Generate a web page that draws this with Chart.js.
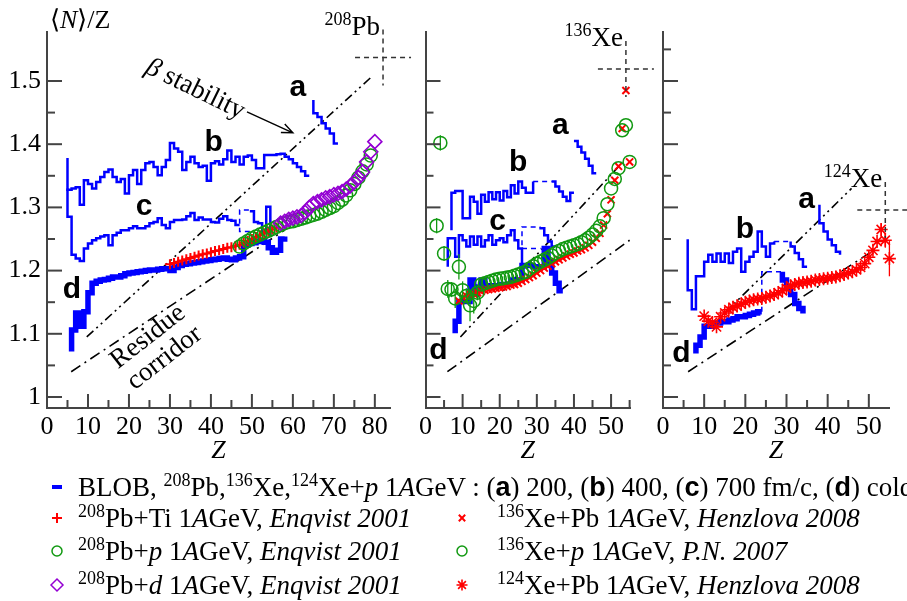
<!DOCTYPE html>
<html>
<head>
<meta charset="utf-8">
<title>N/Z of residues</title>
<script src="https://cdn.jsdelivr.net/npm/chart.js@4.4.1/dist/chart.umd.min.js"></script>
<style>
  html, body { margin: 0; padding: 0; background: #fff; }
  #fig { position: relative; width: 907px; height: 601px; overflow: hidden;
         font-family: 'Liberation Serif', 'Times New Roman', serif; }
  #fig canvas { position: absolute; top: 0; }
  #pbCanvas { left: 0; }
  #xe136Canvas { left: 415px; }
  #xe124Canvas { left: 650px; }
  #legendMarks { left: 0; top: 460px !important; }
  .row { position: absolute; font-size: 27px; line-height: 28px; height: 28px; white-space: nowrap; color: #000; }
  .row sup { font-size: 18px; vertical-align: 0; position: relative; top: -10px; }
  .row b { font-family: 'Liberation Sans', Arial, sans-serif; font-weight: bold; }
</style>
</head>
<body>
<div id="fig">
  <canvas id="pbCanvas" width="420" height="470"></canvas>
  <canvas id="xe136Canvas" width="250" height="470"></canvas>
  <canvas id="xe124Canvas" width="257" height="470"></canvas>
  <canvas id="legendMarks" width="907" height="141"></canvas>

  <div class="row" style="left:78px; top:473px">BLOB, <sup>208</sup>Pb,<sup>136</sup>Xe,<sup>124</sup>Xe+<i>p</i> 1<i>A</i>GeV : (<b>a</b>) 200, (<b>b</b>) 400, (<b>c</b>) 700 fm/c, (<b>d</b>) cold</div>
  <div class="row" style="left:78px; top:504px"><sup>208</sup>Pb+Ti 1<i>A</i>GeV, <i>Enqvist 2001</i></div>
  <div class="row" style="left:78px; top:537px"><sup>208</sup>Pb+<i>p</i> 1<i>A</i>GeV, <i>Enqvist 2001</i></div>
  <div class="row" style="left:78px; top:571px"><sup>208</sup>Pb+<i>d</i> 1<i>A</i>GeV, <i>Enqvist 2001</i></div>
  <div class="row" style="left:497px; top:504px"><sup>136</sup>Xe+Pb 1<i>A</i>GeV, <i>Henzlova 2008</i></div>
  <div class="row" style="left:497px; top:537px"><sup>136</sup>Xe+<i>p</i> 1<i>A</i>GeV, <i>P.N. 2007</i></div>
  <div class="row" style="left:497px; top:571px"><sup>124</sup>Xe+Pb 1<i>A</i>GeV, <i>Henzlova 2008</i></div>
</div>

<script>
// ---------------- 208Pb panel ----------------
// BLOB histograms: one <N>/Z value per unit-Z bin
const pbBlobA = [1.449, 1.443, 1.433, 1.425, 1.417, 1.401];                 // Z 65..70
const pbBlobB = [1.328, 1.330, 1.332, 1.304, 1.343, 1.337, 1.330, 1.340, 1.348, 1.356,
                 1.360, 1.348, 1.340, 1.345, 1.322, 1.351, 1.359, 1.337, 1.359, 1.370,
                 1.372, 1.364, 1.351, 1.364, 1.375, 1.402, 1.393, 1.388, 1.359, 1.372,
                 1.380, 1.370, 1.364, 1.366, 1.342, 1.370, 1.373, 1.368, 1.376, 1.390,
                 1.372, 1.380, 1.368, 1.380, 1.382, 1.375, 1.362, 1.362, 1.383, 1.383,
                 1.383, 1.384, 1.385, 1.380, 1.376, 1.370, 1.364, 1.357, 1.350];   // Z 5..63
const pbBlobC = [1.285, 1.225, 1.219, 1.215, 1.235, 1.243, 1.248, 1.251, 1.254, 1.256,
                 1.240, 1.256, 1.260, 1.264, 1.264, 1.267, 1.270, 1.267, 1.267, 1.270,
                 1.275, 1.277, 1.283, 1.272, 1.267, 1.277, 1.280, 1.280, 1.281, 1.286,
                 1.291, 1.280, 1.284, 1.281, 1.281, 1.277, 1.276, 1.282, 1.286, 1.280,
                 1.279, 1.272];                                                 // Z 5..46
const pbBlobCTail = [1.294, 1.277, 1.275, 1.259, 1.301];                       // Z 49.5..54.5
const pbCDashZ = [49.5, 47, 47, 49.5];
const pbCDashNZ = [1.262, 1.262, 1.296, 1.296];
const pbBlobD = [1.106, 1.133, 1.112, 1.135, 1.165, 1.180, 1.183, 1.185, 1.186, 1.188,
                 1.190, 1.190, 1.192, 1.195, 1.196, 1.197, 1.198, 1.199, 1.200, 1.201,
                 1.201, 1.202, 1.203, 1.203, 1.200, 1.205, 1.208, 1.210, 1.211, 1.212,
                 1.213, 1.214, 1.215, 1.216, 1.217, 1.218, 1.219, 1.220, 1.218, 1.217,
                 1.220, 1.222, 1.240, 1.243, 1.244, 1.246, 1.248, 1.245, 1.236, 1.229,
                 1.232, 1.250];                                                 // Z 6..57
// measured isotopic <N>/Z, one point per Z
const pbTi = [1.210, 1.212, 1.214, 1.216, 1.218, 1.220, 1.222, 1.224, 1.226, 1.227,
              1.229, 1.231, 1.232, 1.234, 1.236, 1.237, 1.239, 1.241, 1.244, 1.247,
              1.250, 1.253, 1.256, 1.259, 1.262, 1.265, 1.268];                 // Z 30..56
const pbP = [1.238, 1.243, 1.247, 1.251, 1.254, 1.257, 1.260, 1.263, 1.266, 1.269,
             1.272, 1.275, 1.277, 1.278, 1.280, 1.282, 1.284, 1.286, 1.288, 1.290,
             1.293, 1.296, 1.299, 1.302, 1.307, 1.312, 1.319, 1.327, 1.337, 1.347,
             1.357, 1.368, 1.382];                                              // Z 47..79
const pbDeut = [1.275, 1.278, 1.281, 1.283, 1.285, 1.287, 1.292, 1.300, 1.306, 1.309,
                1.312, 1.315, 1.317, 1.320, 1.322, 1.325, 1.329, 1.334, 1.340, 1.347,
                1.356, 1.372, 1.388, 1.404];                                    // Z 57..80
const pbBetaZ = [9.7, 79.6],  pbBetaNZ = [1.095, 1.509];
const pbResZ = [5.9, 58],     pbResNZ = [1.040, 1.264];

// ---------------- 136Xe panel ----------------
const xeBlobA = [1.405, 1.396, 1.387, 1.377, 1.366, 1.354];                    // Z 40..45
const xeBlobB = [1.323, 1.326, 1.326, 1.283, 1.283, 1.317, 1.309, 1.290, 1.320, 1.309,
                 1.324, 1.313, 1.324, 1.311, 1.326, 1.316, 1.335, 1.322, 1.341, 1.331,
                 1.323, 1.323];                                                 // Z 7..28
const xeBDashZ = [29, 34],    xeBDashNZ = [1.341, 1.341];
const xeBlobBTail = [1.341, 1.333, 1.325, 1.317, 1.310, 1.323];                // Z 34..39
const xeBlobC = [1.251, 1.251, 1.222, 1.256, 1.248, 1.238, 1.254, 1.241, 1.254, 1.238,
                 1.248, 1.256, 1.241, 1.248, 1.251, 1.245, 1.256, 1.264, 1.248, 1.235]; // Z 6..25
const xeCDashZ = [26, 26, 31],          xeCDashNZ = [1.2115, 1.269, 1.269];
const xeCDash2Z = [26, 31],             xeCDash2NZ = [1.235, 1.235];
const xeBlobCTail = [1.267, 1.256, 1.246, 1.238];                              // Z 31..34
const xeBlobD = [1.120, 1.151, 1.151, 1.151, 1.185, 1.163, 1.174, 1.185, 1.174, 1.176,
                 1.176, 1.176, 1.178, 1.178, 1.178, 1.185, 1.185, 1.185, 1.208, 1.208,
                 1.208, 1.206, 1.206, 1.206, 1.235, 1.214, 1.196, 1.180, 1.168];  // Z 8..36
const xeP = [1.271, 1.402, 1.227, 1.171, 1.170, 1.156, 1.206, 1.169, 1.160, 1.145,
             1.152, 1.165, 1.178, 1.180, 1.182, 1.184, 1.186, 1.187, 1.188, 1.189,
             1.190, 1.192, 1.194, 1.196, 1.198, 1.203, 1.207, 1.211, 1.214, 1.217,
             1.220, 1.224, 1.228, 1.231, 1.234, 1.236, 1.238, 1.240, 1.242, 1.245,
             1.248, 1.252, 1.257, 1.263, 1.270, 1.283, 1.305, 1.330, 1.345, 1.362,
             1.422, 1.430, 1.372];                                              // Z 3..55
const xePErr = [0.012, 0.012, 0.012, 0.014, 0.012, 0.015, 0.020, 0.014, 0.012, 0.025,
                0.020, 0.012, 0.008];                                           // Z 3..15
const xePb = [1.152, 1.158, 1.160, 1.162, 1.163, 1.165, 1.167, 1.169, 1.170, 1.171,
              1.172, 1.173, 1.174, 1.175, 1.177, 1.178, 1.180, 1.183, 1.186, 1.189,
              1.192, 1.196, 1.200, 1.204, 1.207, 1.211, 1.214, 1.217, 1.220, 1.223,
              1.226, 1.228, 1.231, 1.233, 1.236, 1.240, 1.245, 1.251, 1.259, 1.272,
              1.290, 1.312, 1.343, 1.365, 1.425, 1.485, 1.372];                 // Z 9..55
const xeBetaZ = [9.4, 52.9],  xeBetaNZ = [1.095, 1.370];
const xeResZ = [5.9, 55],     xeResNZ = [1.040, 1.248];

// ---------------- 124Xe panel ----------------
const x124BlobA = [1.275, 1.262, 1.249, 1.240, 1.230];                         // Z 38..42
const x124BlobB = [1.169, 1.139, 1.191, 1.191, 1.214, 1.225, 1.214, 1.227, 1.214, 1.227,
                   1.212, 1.230, 1.235, 1.198, 1.214, 1.222, 1.230, 1.262, 1.238, 1.222,
                   1.243];                                                      // Z 6..26
const x124BDashZ = [27, 31],  x124BDashNZ = [1.246, 1.246];
const x124BlobBTail = [1.238, 1.228, 1.218, 1.206];                            // Z 31..34
const x124BlobD = [1.082, 1.095, 1.112, 1.112, 1.117, 1.117, 1.119, 1.119, 1.122, 1.124,
                   1.127, 1.127, 1.129, 1.131, 1.133, 1.135];                   // Z 8..23
const x124DDashZ = [24, 24, 29], x124DDashNZ = [1.135, 1.198, 1.198];
const x124BlobDTail = [1.185, 1.172, 1.162, 1.148, 1.140];                     // Z 29..33
const x124Pb = [1.128, 1.120, 1.118, 1.111, 1.127, 1.133, 1.138, 1.142, 1.144, 1.147,
                1.150, 1.152, 1.154, 1.155, 1.156, 1.158, 1.160, 1.162, 1.165, 1.168,
                1.172, 1.176, 1.178, 1.180, 1.181, 1.182, 1.183, 1.185, 1.186, 1.187,
                1.188, 1.189, 1.190, 1.192, 1.194, 1.196, 1.198, 1.201, 1.205, 1.211,
                1.221, 1.232, 1.246, 1.265, 1.248, 1.219];                      // Z 10..55
const x124PbErr = { 53: 0.010, 54: 0.012, 55: 0.028 };
const x124BetaZ = [15, 45.8], x124BetaNZ = [1.133, 1.330];
const x124ResZ = [6.1, 50.2], x124ResNZ = [1.040, 1.228];

// projectiles (Z, N/Z)
const projPb = [82, 1.537], projXe136 = [54, 1.519], projXe124 = [54, 1.296];

// ------------------------------------------------
Chart.defaults.font.family = "'Liberation Serif', 'Times New Roman', serif";
Chart.defaults.color = '#000';

const AXIS = '#444';
const BLUE = '#0000ff', RED = '#ff0000', GREEN = '#119911', PURPLE = '#9400d3';

// stepped histogram points: bin i spans [z0+i, z0+i+1]
function histo(z0, vals, top, bottom) {
  const pts = [];
  if (top !== undefined) pts.push({x: z0, y: top});
  vals.forEach((v, i) => pts.push({x: z0 + i, y: v}));
  pts.push({x: z0 + vals.length, y: bottom !== undefined ? bottom : vals[vals.length - 1]});
  return pts;
}
function byZ(z0, vals) {
  return vals.map((v, i) => ({x: z0 + i, y: v}));
}
function pairs(zs, vs) {
  return zs.map((z, i) => ({x: z, y: vs[i]}));
}

function blob(points, width) {
  return { data: points, borderColor: BLUE, borderWidth: width, stepped: 'before',
           pointRadius: 0, fill: false, order: 5 };
}
function blobDash(points) {
  return { data: points, borderColor: BLUE, borderWidth: 1.5, borderDash: [5, 4],
           pointRadius: 0, fill: false, order: 5 };
}
function marks(points, style, color, radius, width, err) {
  return { data: points, showLine: false, pointStyle: style, pointRadius: radius,
           pointBorderColor: color, pointBackgroundColor: 'rgba(0,0,0,0)',
           pointBorderWidth: width, borderColor: color, clip: false, order: 1, yErr: err };
}
function guide(points, dash) {
  return { data: points, borderColor: '#000', borderWidth: 1.6, borderDash: dash,
           pointRadius: 0, fill: false, order: 8 };
}
const BETA_DASH = [9, 4, 2, 4, 2, 4];
const RES_DASH = [11, 5, 2, 5];

// vertical error bars for datasets that carry yErr
const errorBars = {
  id: 'errorBars',
  afterDatasetsDraw(chart) {
    const {ctx, scales: {y}} = chart;
    chart.data.datasets.forEach((ds, i) => {
      if (!ds.yErr) return;
      const meta = chart.getDatasetMeta(i);
      ctx.save();
      ctx.strokeStyle = ds.pointBorderColor;
      ctx.lineWidth = 1.3;
      meta.data.forEach((pt, j) => {
        const p = ds.data[j];
        const e = Array.isArray(ds.yErr) ? ds.yErr[j] : ds.yErr[p.x];
        if (!e) return;
        ctx.beginPath();
        ctx.moveTo(pt.x, y.getPixelForValue(p.y - e));
        ctx.lineTo(pt.x, y.getPixelForValue(p.y + e));
        ctx.stroke();
      });
      ctx.restore();
    });
  }
};

// inward ticks, curve letters, projectile cross and axis title
const panelDecor = {
  id: 'panelDecor',
  afterDraw(chart, args, o) {
    const {ctx, chartArea: a, scales: {x, y}} = chart;
    ctx.save();
    ctx.strokeStyle = AXIS;
    ctx.lineWidth = 2;
    for (let k = 20; k <= o.yTickTop; k++) {
      const py = y.getPixelForValue(k * 0.05);
      const len = k % 2 === 0 ? 15 : 8;
      ctx.beginPath(); ctx.moveTo(a.left, py); ctx.lineTo(a.left + len, py); ctx.stroke();
    }
    for (let z = 5; z <= x.max + 0.01; z += 5) {
      const px = x.getPixelForValue(z);
      const len = z % 10 === 0 ? 14 : 8;
      ctx.beginPath(); ctx.moveTo(px, a.bottom); ctx.lineTo(px, a.bottom - len); ctx.stroke();
    }

    // curve labels
    ctx.fillStyle = '#000';
    ctx.font = "bold 30px 'Liberation Sans', Arial, sans-serif";
    ctx.textAlign = 'center';
    ctx.textBaseline = 'middle';
    o.letters.forEach(([t, z, v]) => ctx.fillText(t, x.getPixelForValue(z), y.getPixelForValue(v)));

    // projectile marker: dashed cross with its name
    const cx = x.getPixelForValue(o.proj[0]), cy = y.getPixelForValue(o.proj[1]);
    ctx.strokeStyle = '#333';
    ctx.lineWidth = 1.5;
    ctx.setLineDash([5, 4]);
    ctx.beginPath();
    ctx.moveTo(cx, cy - 28); ctx.lineTo(cx, cy + 28);
    ctx.moveTo(cx - 28, cy); ctx.lineTo(cx + 28, cy);
    ctx.stroke();
    ctx.setLineDash([]);
    ctx.textAlign = 'left';
    ctx.textBaseline = 'alphabetic';
    ctx.font = "27px 'Liberation Serif'";
    const symW = ctx.measureText(o.projName[1]).width;
    ctx.font = "18px 'Liberation Serif'";
    const massW = ctx.measureText(o.projName[0]).width;
    const x0 = cx - 3 - symW - massW;
    ctx.fillText(o.projName[0], x0, cy - 33);
    ctx.font = "27px 'Liberation Serif'";
    ctx.fillText(o.projName[1], x0 + massW, cy - 23);

    // axis title
    ctx.font = "italic 26px 'Liberation Serif'";
    ctx.textAlign = 'center';
    ctx.textBaseline = 'middle';
    ctx.fillText('Z', (a.left + a.right) / 2, 451);
    ctx.restore();
  }
};

// extra annotations of the Pb panel
const pbNotes = {
  id: 'pbNotes',
  afterDraw(chart) {
    const {ctx, chartArea: a, scales: {x, y}} = chart;
    const P = (z, v) => [x.getPixelForValue(z), y.getPixelForValue(v)];
    ctx.save();
    ctx.fillStyle = '#000';
    ctx.strokeStyle = '#000';

    // y axis title <N>/Z
    ctx.textBaseline = 'alphabetic';
    ctx.textAlign = 'left';
    let tx = a.left + 3;
    const ty = a.top - 4;
    ctx.font = "26px 'Liberation Serif'";
    ctx.fillText('\u27e8', tx, ty); tx += ctx.measureText('\u27e8').width;
    ctx.font = "italic 26px 'Liberation Serif'";
    ctx.fillText('N', tx, ty); tx += ctx.measureText('N').width;
    ctx.font = "26px 'Liberation Serif'";
    ctx.fillText('\u27e9/Z', tx, ty);

    // beta stability label and arrow
    ctx.save();
    const [bx, by] = P(24.4, 1.524);
    ctx.translate(bx, by);
    ctx.rotate(26 * Math.PI / 180);
    ctx.textBaseline = 'middle';
    ctx.font = "italic 27px 'Liberation Serif'";
    ctx.fillText('\u03b2', 0, 0);
    const bw = ctx.measureText('\u03b2').width;
    ctx.font = "27px 'Liberation Serif'";
    ctx.fillText(' stability', bw, 0);
    ctx.restore();

    const [ax0, ay0] = P(48.8, 1.451), [ax1, ay1] = P(60, 1.418);
    const ang = Math.atan2(ay1 - ay0, ax1 - ax0);
    ctx.lineWidth = 1.4;
    ctx.beginPath();
    ctx.moveTo(ax0, ay0); ctx.lineTo(ax1, ay1);
    ctx.moveTo(ax1 - 12 * Math.cos(ang - 0.4), ay1 - 12 * Math.sin(ang - 0.4));
    ctx.lineTo(ax1, ay1);
    ctx.lineTo(ax1 - 12 * Math.cos(ang + 0.4), ay1 - 12 * Math.sin(ang + 0.4));
    ctx.stroke();

    // residue corridor label
    ctx.save();
    const [rx, ry] = P(26.6, 1.079);
    ctx.translate(rx, ry);
    ctx.rotate(-38 * Math.PI / 180);
    ctx.textAlign = 'center';
    ctx.textBaseline = 'middle';
    ctx.font = "27px 'Liberation Serif'";
    ctx.fillText('Residue', 0, -13);
    ctx.fillText('corridor', 0, 14);
    ctx.restore();
    ctx.restore();
  }
};

function makePanel(id, cfg) {
  return new Chart(document.getElementById(id), {
    type: 'line',
    data: { datasets: cfg.datasets },
    options: {
      responsive: false,
      animation: false,
      events: [],
      layout: { padding: cfg.padding },
      plugins: { legend: { display: false }, tooltip: { enabled: false }, panelDecor: cfg.decor },
      scales: {
        x: {
          type: 'linear', min: 0, max: cfg.zMax,
          border: { display: true, color: AXIS, width: 2 },
          grid: { display: false, drawTicks: false },
          ticks: { stepSize: 10, includeBounds: false, autoSkip: false, maxRotation: 0,
                   padding: 4, font: { size: 26 }, color: '#000' },
          afterFit: s => { s.height = 62; }
        },
        y: {
          type: 'linear', min: 0.9826, max: 1.5775,
          border: { display: true, color: AXIS, width: 2 },
          grid: { display: false, drawTicks: false },
          ticks: { display: cfg.yLabels, stepSize: 0.1, includeBounds: false, padding: 6,
                   font: { size: 26 }, color: '#000',
                   callback: v => String(Number(v.toFixed(2))) },
          afterFit: s => { s.width = cfg.yWidth; }
        }
      }
    },
    plugins: [panelDecor, errorBars].concat(cfg.extra || [])
  });
}

makePanel('pbCanvas', {
  zMax: 83.7, yWidth: 47, yLabels: true,
  padding: { left: 0, top: 32, right: 30, bottom: 0 },
  decor: { yTickTop: 30, proj: projPb, projName: ['208', 'Pb'],
           letters: [['a', 61.2, 1.489], ['b', 40.7, 1.402], ['c', 23.7, 1.301], ['d', 6.1, 1.169]] },
  extra: [pbNotes],
  datasets: [
    marks(byZ(57, pbDeut), 'rectRot', PURPLE, 7, 1.6),
    marks(byZ(47, pbP), 'circle', GREEN, 6.5, 1.5),
    marks(byZ(30, pbTi), 'cross', RED, 5, 2),
    blob(histo(65, pbBlobA, 1.470), 2.5),
    blob(histo(5, pbBlobB, 1.378), 2.5),
    blob(histo(5, pbBlobC, 1.330), 2.5),
    blob(histo(49.5, pbBlobCTail, undefined, 1.255), 2.5),
    blobDash(pairs(pbCDashZ, pbCDashNZ)),
    blob(histo(6, pbBlobD, 1.072, 1.254), 5.5),
    guide(pairs(pbBetaZ, pbBetaNZ), BETA_DASH),
    guide(pairs(pbResZ, pbResNZ), RES_DASH)
  ]
});

makePanel('xe136Canvas', {
  zMax: 55.1, yWidth: 10, yLabels: false,
  padding: { left: 0, top: 32, right: 35, bottom: 0 },
  decor: { yTickTop: 30, proj: projXe136, projName: ['136', 'Xe'],
           letters: [['a', 36.3, 1.429], ['b', 25.0, 1.371], ['c', 19.4, 1.277], ['d', 3.5, 1.073]] },
  datasets: [
    marks(byZ(3, xeP), 'circle', GREEN, 6.5, 1.5, xePErr),
    marks(byZ(9, xePb), 'crossRot', RED, 5, 2),
    blob(histo(40, xeBlobA), 2.5),
    blob(histo(7, xeBlobB, 1.264, 1.341), 2.5),
    blobDash(pairs(xeBDashZ, xeBDashNZ)),
    blob(histo(34, xeBlobBTail), 2.5),
    blob(histo(6, xeBlobC, 1.206, 1.2115), 2.5),
    blobDash(pairs(xeCDashZ, xeCDashNZ)),
    blobDash(pairs(xeCDash2Z, xeCDash2NZ)),
    blob(histo(31, xeBlobCTail, 1.269), 2.5),
    blob(histo(8, xeBlobD, 1.101), 5.5),
    guide(pairs(xeBetaZ, xeBetaNZ), BETA_DASH),
    guide(pairs(xeResZ, xeResNZ), RES_DASH)
  ]
});

makePanel('xe124Canvas', {
  zMax: 54.9, yWidth: 13, yLabels: false,
  padding: { left: 0, top: 32, right: 18, bottom: 0 },
  decor: { yTickTop: 31, proj: projXe124, projName: ['124', 'Xe'],
           letters: [['a', 34.9, 1.312], ['b', 19.9, 1.264], ['d', 4.5, 1.069]] },
  datasets: [
    marks(byZ(10, x124Pb), 'star', RED, 6.5, 1.6, x124PbErr),
    blob(histo(38, x124BlobA, 1.304, 1.225), 2.5),
    blob(histo(6, x124BlobB, 1.2495, 1.246), 2.5),
    blobDash(pairs(x124BDashZ, x124BDashNZ)),
    blob(histo(31, x124BlobBTail, 1.246), 2.5),
    blob(histo(8, x124BlobD, 1.069), 5.5),
    blobDash(pairs(x124DDashZ, x124DDashNZ)),
    blob(histo(29, x124BlobDTail, 1.198, 1.132), 5.5),
    guide(pairs(x124BetaZ, x124BetaNZ), BETA_DASH),
    guide(pairs(x124ResZ, x124ResNZ), RES_DASH)
  ]
});

// legend symbols
const lg = document.getElementById('legendMarks').getContext('2d');
function legendMark(style, color, r, w, px, py) {
  lg.save();
  lg.strokeStyle = color;
  lg.fillStyle = 'rgba(0,0,0,0)';
  lg.lineWidth = w;
  Chart.helpers.drawPoint(lg, { pointStyle: style, radius: r, borderWidth: w, rotation: 0 }, px, py);
  lg.restore();
}
lg.strokeStyle = BLUE;
lg.lineWidth = 4;
lg.beginPath(); lg.moveTo(52, 27); lg.lineTo(62, 27); lg.stroke();
legendMark('cross', RED, 5, 2, 57, 58);
legendMark('circle', GREEN, 5, 1.5, 57, 91);
legendMark('rectRot', PURPLE, 6, 1.5, 57, 125);
legendMark('crossRot', RED, 4.5, 2, 462, 58);
legendMark('circle', GREEN, 5, 1.5, 462, 91);
legendMark('star', RED, 5.5, 1.6, 462, 125);
</script>
</body>
</html>
